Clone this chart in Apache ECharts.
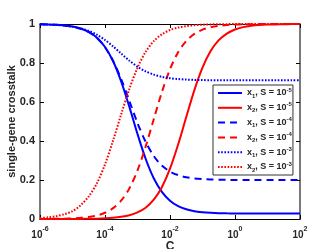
<!DOCTYPE html>
<html><head><meta charset="utf-8">
<script src="https://cdn.jsdelivr.net/npm/echarts@6/dist/echarts.min.js"></script>
<style>html,body{margin:0;padding:0;background:#fff}#c{width:332px;height:249px}</style>
</head><body><div id="c"></div>
<script>
// log10(C) sample positions
const logC = [-6,-5.75,-5.5,-5.25,-5,-4.75,-4.5,-4.25,-4,-3.75,-3.5,-3.25,-3,-2.75,-2.5,-2.25,-2,-1.75,-1.5,-1.25,-1,-0.75,-0.5,-0.25,0,0.25,0.5,0.75,1,1.25,1.5,1.75,2];
const x1_S5 = [0.9987,0.9976,0.9958,0.9925,0.9868,0.9768,0.9593,0.930,0.882,0.809,0.704,0.575,0.436,0.309,0.209,0.139,0.094,0.066,0.050,0.040,0.035,0.032,0.030,0.029,0.0285,0.0283,0.028,0.028,0.028,0.028,0.028,0.028,0.028];
const x2_S5 = [0.0000,0.0001,0.0001,0.0002,0.0003,0.0006,0.0011,0.0019,0.0035,0.0061,0.011,0.019,0.034,0.058,0.099,0.163,0.258,0.382,0.523,0.661,0.776,0.861,0.917,0.951,0.972,0.984,0.991,0.995,0.997,0.998,0.999,0.9995,0.9997];
const x1_S4 = [0.9986,0.9975,0.9956,0.9922,0.986,0.976,0.958,0.929,0.881,0.811,0.716,0.605,0.492,0.396,0.323,0.274,0.2435,0.225,0.214,0.208,0.2046,0.2026,0.2015,0.2008,0.2005,0.2003,0.2002,0.2001,0.2,0.2,0.2,0.2,0.2];
const x2_S4 = [0.0003,0.0006,0.0010,0.0019,0.0033,0.0059,0.0103,0.0183,0.032,0.0556,0.095,0.157,0.249,0.371,0.512,0.651,0.768,0.855,0.913,0.949,0.971,0.983,0.9906,0.9947,0.997,0.9983,0.999,0.9995,0.9997,0.9998,0.9999,1,1];
const x1_S3 = [0.9982,0.997,0.995,0.9917,0.9864,0.978,0.965,0.945,0.918,0.885,0.848,0.812,0.781,0.757,0.7405,0.729,0.722,0.7178,0.715,0.7134,0.7124,0.7117,0.7114,0.7112,0.7111,0.711,0.711,0.711,0.711,0.711,0.711,0.711,0.711];
const x2_S3 = [0.0049,0.0085,0.0146,0.0245,0.0402,0.0705,0.1165,0.183,0.280,0.403,0.538,0.667,0.776,0.857,0.912,0.947,0.969,0.982,0.989,0.9937,0.9964,0.9979,0.9988,0.9993,0.9996,0.9998,0.9999,0.9999,1,1,1,1,1];
const xTickExps = [-6,-4,-2,0,2];
const yTicks = [0,0.2,0.4,0.6,0.8,1];
const seriesDefs = [
  {name:'a', idx:'1', exp:'-5', data:x1_S5, color:'#0000ff', dash:'solid'},
  {name:'b', idx:'2', exp:'-5', data:x2_S5, color:'#ff0000', dash:'solid'},
  {name:'c', idx:'1', exp:'-4', data:x1_S4, color:'#0000ff', dash:[7,5]},
  {name:'d', idx:'2', exp:'-4', data:x2_S4, color:'#ff0000', dash:[7,5]},
  {name:'e', idx:'1', exp:'-3', data:x1_S3, color:'#0000ff', dash:[1.6,1.6]},
  {name:'f', idx:'2', exp:'-3', data:x2_S3, color:'#ff0000', dash:[1.6,1.6]}
];
const font = 'Liberation Sans, Arial, Helvetica, sans-serif';
const chart = echarts.init(document.getElementById('c'), null, {renderer:'canvas'});
const frameGrey = '#7a7a7a';
chart.setOption({
  animation:false,
  grid:{left:40,right:32,top:24,bottom:30,containLabel:false,outerBoundsMode:'none'},
  xAxis:[{
    type:'value', min:-6, max:2, interval:2, position:'bottom',
    name:'C', nameLocation:'middle', nameGap:22, nameMoveOverlap:false,
    nameTextStyle:{fontFamily:font,fontWeight:'bold',fontSize:12,color:'#262626',lineHeight:12},
    axisLine:{onZero:false,lineStyle:{color:'#000',width:1}},
    axisTick:{inside:true,length:4,lineStyle:{color:'#000'}},
    splitLine:{show:false},
    axisLabel:{margin:7,fontFamily:font,color:'#262626',
      formatter:v=> xTickExps.indexOf(v)>=0 ? '{b|10}{s|'+v+'}' : '',
      rich:{b:{fontFamily:font,fontWeight:'bold',fontSize:10,color:'#262626',verticalAlign:'bottom',lineHeight:14},
            s:{fontFamily:font,fontWeight:'bold',fontSize:7,color:'#262626',verticalAlign:'top',lineHeight:14}}}
  },{
    type:'value', min:-6, max:2, interval:2, position:'top',
    axisLine:{onZero:false,lineStyle:{color:'#000',width:1}},
    axisTick:{inside:true,length:4,lineStyle:{color:'#000'}},
    axisLabel:{show:false}, splitLine:{show:false}
  }],
  yAxis:[{
    type:'value', min:0, max:1, interval:0.2, position:'left',
    name:'single-gene crosstalk', nameLocation:'middle', nameGap:23, nameMoveOverlap:false,
    nameTextStyle:{fontFamily:font,fontWeight:'bold',fontSize:11,color:'#262626',lineHeight:11},
    axisLine:{show:true,onZero:false,lineStyle:{color:frameGrey,width:2}},
    axisTick:{show:true,inside:true,length:4,lineStyle:{color:'#000'}},
    splitLine:{show:false},
    axisLabel:{margin:5,fontFamily:font,fontWeight:'bold',fontSize:11,color:'#262626',
      formatter:v=>{const t=yTicks.find(y=>Math.abs(y-v)<1e-9); return t===undefined?'':String(t);}}
  },{
    type:'value', min:0, max:1, interval:0.2, position:'right',
    axisLine:{show:true,onZero:false,lineStyle:{color:frameGrey,width:2}},
    axisTick:{show:true,inside:true,length:4,lineStyle:{color:'#000'}},
    axisLabel:{show:false}, splitLine:{show:false}
  }],
  legend:{
    orient:'vertical', left:213, top:85,
    data:seriesDefs.map(s=>s.name),
    itemWidth:24, itemHeight:10, itemGap:2.8,
    padding:[2,1,2,4],
    itemStyle:{opacity:0},
    backgroundColor:'#fff', borderColor:'#333', borderWidth:1, borderRadius:0,
    formatter:name=>{const s=seriesDefs.find(d=>d.name===name); return 'x{sub|'+s.idx+'}, S = 10{sup|'+s.exp+'}';},
    textStyle:{fontFamily:font,fontWeight:'bold',fontSize:9,color:'#262626',lineHeight:12,
      rich:{sub:{fontFamily:font,fontWeight:'bold',fontSize:6,color:'#262626',verticalAlign:'bottom',lineHeight:12},
            sup:{fontFamily:font,fontWeight:'bold',fontSize:6,color:'#262626',verticalAlign:'top',lineHeight:12}}}
  },
  series:seriesDefs.map(s=>({
    name:s.name, type:'line', xAxisIndex:0, yAxisIndex:0,
    data:logC.map((l,i)=>[l,s.data[i]]),
    symbol:'none', smooth:0.3,
    lineStyle:{color:s.color,width:2,type:s.dash},
    itemStyle:{color:s.color}
  }))
});
</script></body></html>
